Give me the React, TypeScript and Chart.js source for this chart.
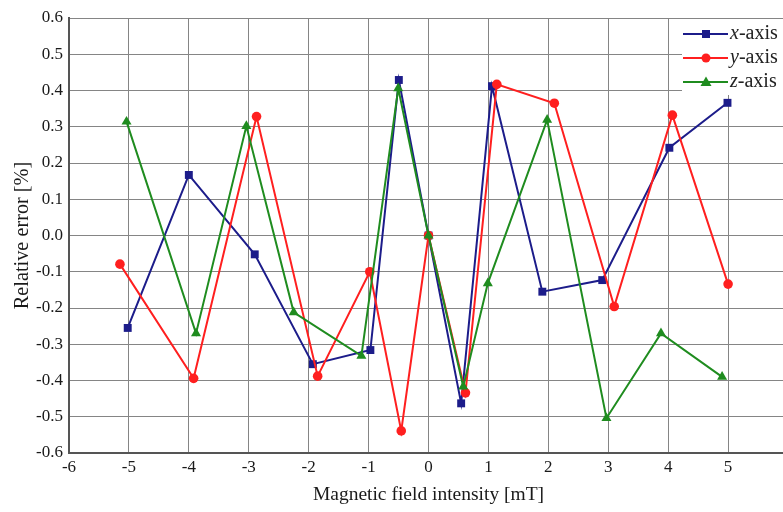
import React, { useEffect, useRef } from "react";
import { Chart, registerables } from "chart.js";

Chart.register(...registerables);

const seriesNames = ["x", "y", "z"];
const seriesColors = ["#1c1c8a", "#ff1f1f", "#1f8c1f"];
const seriesMarkers = ["rect", "circle", "triangle"];

const xAxisX = [-5.02, -4.0, -2.9, -1.93, -0.97, -0.495, 0, 0.545, 1.06, 1.9, 2.9, 4.02, 4.99];
const xAxisY = [-0.255, 0.167, -0.052, -0.355, -0.316, 0.429, 0, -0.463, 0.412, -0.155, -0.123, 0.242, 0.366];

const yAxisX = [-5.15, -3.92, -2.87, -1.85, -0.98, -0.455, 0, 0.617, 1.14, 2.1, 3.1, 4.07, 5.0];
const yAxisY = [-0.079, -0.394, 0.328, -0.388, -0.1, -0.539, 0, -0.434, 0.417, 0.365, -0.196, 0.332, -0.134];

const zAxisX = [-5.04, -3.88, -3.04, -2.25, -1.12, -0.505, 0, 0.58, 0.99, 1.98, 2.97, 3.88, 4.9];
const zAxisY = [0.314, -0.27, 0.302, -0.212, -0.332, 0.406, 0, -0.417, -0.132, 0.319, -0.504, -0.27, -0.39];

const xMin = -6;
const xMax = 6;
const yMin = -0.6;
const yMax = 0.6;

const xTitle = "Magnetic field intensity [mT]";
const yTitle = "Relative error [%]";

const SERIF = "'Liberation Serif', 'Times New Roman', serif";

function toPoints(xs: number[], ys: number[]) {
  return xs.map((x, i) => ({ x, y: ys[i] }));
}

const legendPlugin = {
  id: "customLegend",
  afterDatasetsDraw(chart: any) {
    const ctx = chart.ctx;
    const area = chart.chartArea;
    ctx.save();
    const left = 682;
    const top = area.top + 1;
    ctx.fillStyle = "#ffffff";
    ctx.fillRect(left, top, area.right - left + 20, 95 - top);
    const rows = [34, 58, 82];
    chart.data.datasets.forEach((ds: any, i: number) => {
      const y = rows[i];
      ctx.strokeStyle = ds.borderColor;
      ctx.lineWidth = 2;
      ctx.beginPath();
      ctx.moveTo(683, y);
      ctx.lineTo(728, y);
      ctx.stroke();
      ctx.fillStyle = ds.borderColor;
      ctx.beginPath();
      const mx = 706;
      if (ds.pointStyle === "rect") {
        ctx.rect(mx - 4, y - 4, 8, 8);
      } else if (ds.pointStyle === "circle") {
        ctx.arc(mx, y, 4.5, 0, Math.PI * 2);
      } else {
        ctx.moveTo(mx, y - 5.5);
        ctx.lineTo(mx + 5.5, y + 4);
        ctx.lineTo(mx - 5.5, y + 4);
        ctx.closePath();
      }
      ctx.fill();
      ctx.fillStyle = "#222222";
      ctx.textBaseline = "middle";
      ctx.textAlign = "left";
      ctx.font = "italic 20px " + SERIF;
      const letter = seriesNames[i];
      ctx.fillText(letter, 730, y);
      const w = ctx.measureText(letter).width;
      ctx.font = "20px " + SERIF;
      ctx.fillText("-axis", 730 + w, y);
    });
    ctx.restore();
  },
};

export default function App() {
  const canvasRef = useRef<HTMLCanvasElement | null>(null);

  useEffect(() => {
    if (!canvasRef.current) return;
    const xs = [xAxisX, yAxisX, zAxisX];
    const ys = [xAxisY, yAxisY, zAxisY];
    const chart = new Chart(canvasRef.current, {
      type: "scatter",
      data: {
        datasets: seriesNames.map((n, i) => ({
          label: n + "-axis",
          data: toPoints(xs[i], ys[i]),
          showLine: true,
          borderColor: seriesColors[i],
          backgroundColor: seriesColors[i],
          borderWidth: 2,
          pointStyle: seriesMarkers[i] as any,
          pointRadius: i === 0 ? 5.6 : i === 1 ? 4.8 : 5.8,
          pointBorderWidth: 0,
          tension: 0,
          order: 2 - i,
        })),
      },
      options: {
        animation: false,
        responsive: false,
        events: [],
        layout: { padding: { left: 0, top: 18, right: 12, bottom: 0 } },
        plugins: {
          legend: { display: false },
          tooltip: { enabled: false },
        },
        scales: {
          x: {
            type: "linear",
            min: xMin,
            max: xMax,
            afterFit(scale: any) {
              scale.height = 59;
              scale.paddingLeft = 0;
              scale.paddingRight = 0;
            },
            ticks: {
              stepSize: 1,
              padding: 4,
              color: "#1a1a1a",
              font: { family: SERIF, size: 17 },
              maxRotation: 0,
              autoSkip: false,
              callback: (v: any) => String(Math.round(Number(v))),
            },
            grid: { color: "#858585", lineWidth: 1, drawTicks: false },
            border: { color: "#555555", width: 2 },
            title: {
              display: true,
              text: xTitle,
              color: "#1a1a1a",
              font: { family: SERIF, size: 19.5 },
              padding: { top: 0, bottom: 5 },
            },
          },
          y: {
            type: "linear",
            min: yMin,
            max: yMax,
            afterFit(scale: any) {
              scale.width = 69;
              scale.paddingTop = 0;
              scale.paddingBottom = 0;
            },
            ticks: {
              stepSize: 0.1,
              padding: 6,
              color: "#1a1a1a",
              font: { family: SERIF, size: 17 },
              callback: (v: any) => {
                const n = Number(v);
                return Math.abs(n) < 1e-9 ? "0.0" : n.toFixed(1);
              },
            },
            grid: { color: "#858585", lineWidth: 1, drawTicks: false },
            border: { color: "#555555", width: 2 },
            title: {
              display: true,
              text: yTitle,
              color: "#1a1a1a",
              font: { family: SERIF, size: 20.3 },
              padding: { top: 10, bottom: 0 },
            },
          },
        },
      },
      plugins: [legendPlugin],
    });
    return () => chart.destroy();
  }, []);

  return (
    <div
      style={{
        position: "fixed",
        left: 0,
        top: 0,
        width: 783,
        height: 512,
        overflow: "hidden",
        background: "#ffffff",
      }}
    >
      <canvas ref={canvasRef} width={800} height={512} style={{ display: "block" }} />
    </div>
  );
}
